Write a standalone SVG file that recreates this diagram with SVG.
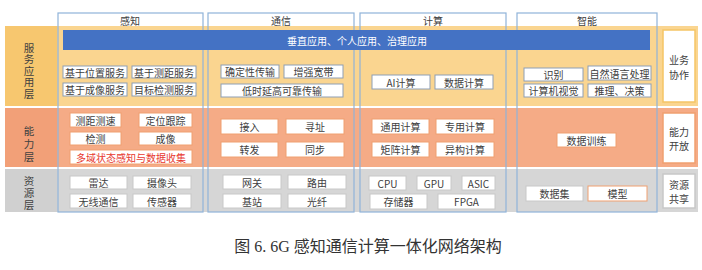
<svg xmlns="http://www.w3.org/2000/svg" width="702" height="270" viewBox="0 0 702 270">
<style>
text{font-family:"Noto Sans CJK SC","Liberation Sans",sans-serif;font-size:10px;fill:#404040;text-anchor:middle;dominant-baseline:central}
.col{fill:none;stroke:#8FB3D9;stroke-width:1.2}
.sv{fill:#fff;stroke:#8E9FB5;stroke-width:1}
.ab{fill:#fff;stroke:#F0A070;stroke-width:1}
.rs{fill:#fff;stroke:#C8C8C8;stroke-width:1}
.lbl{font-size:10px;fill:#404040}
.vl{font-size:10.5px;fill:#404040;writing-mode:vertical-rl;dominant-baseline:auto}
.side{fill:#fff;stroke:#F5C566;stroke-width:1.5}
.sideg{fill:#fff;stroke:#C8C8C8;stroke-width:1.5}
.sidea{fill:#fff;stroke:#F0A070;stroke-width:1.5}
</style>
<rect width="702" height="270" fill="#fff"/>
<!-- bands -->
<g id="band-service">
<rect x="5" y="26" width="693" height="80" fill="#FAD590"/>
<rect x="5" y="26" width="52" height="80" fill="#F7C76F"/>
<text class="vl" x="29" y="71.5" letter-spacing="1">服务应用层</text>
</g>
<g id="band-ability">
<rect x="5" y="108" width="693" height="59" fill="#F5AB86"/>
<rect x="5" y="108" width="52" height="59" fill="#F2A078"/>
<text class="vl" x="29" y="145" letter-spacing="2.5">能力层</text>
</g>
<g id="band-resource">
<rect x="5" y="169" width="693" height="43" fill="#D6D6D6"/>
<rect x="5" y="169" width="52" height="43" fill="#D0D0D0"/>
<text class="vl" x="29" y="194" letter-spacing="1.5">资源层</text>
</g>
<!-- columns -->
<g id="columns">
<rect class="col" x="58" y="13" width="145" height="199"/>
<rect class="col" x="208" y="13" width="146" height="199"/>
<rect class="col" x="360" y="13" width="146" height="199"/>
<rect class="col" x="517" y="13" width="140" height="199"/>
<text x="130" y="20">感知</text>
<text x="281" y="20">通信</text>
<text x="433" y="20">计算</text>
<text x="587" y="20">智能</text>
</g>
<g id="app-bar">
<rect x="63" y="30" width="587" height="20" fill="#4472C4"/>
<text x="357" y="40" style="fill:#fff">垂直应用、个人应用、治理应用</text>
</g>
<!-- service layer boxes -->
<g id="svc-sense">
<rect class="sv" x="63" y="66" width="64" height="12"/><text x="95" y="72">基于位置服务</text>
<rect class="sv" x="132" y="66" width="64" height="12"/><text x="164" y="72">基于测距服务</text>
<rect class="sv" x="63" y="83" width="64" height="13"/><text x="95" y="89.5">基于成像服务</text>
<rect class="sv" x="132" y="83" width="64" height="13"/><text x="164" y="89.5">目标检测服务</text>
</g>
<g id="svc-comm">
<rect class="sv" x="221" y="65" width="58" height="13"/><text x="250" y="71.5">确定性传输</text>
<rect class="sv" x="284" y="65" width="59" height="13"/><text x="313.5" y="71.5">增强宽带</text>
<rect class="sv" x="221" y="84" width="122" height="13"/><text x="282" y="90.5">低时延高可靠传输</text>
</g>
<g id="svc-comp">
<rect class="sv" x="372" y="75" width="58" height="14"/><text x="401" y="82">AI计算</text>
<rect class="sv" x="435" y="75" width="58" height="14"/><text x="464" y="82">数据计算</text>
</g>
<g id="svc-ai">
<rect class="sv" x="524" y="68" width="59" height="13"/><text x="553.5" y="74.5">识别</text>
<rect class="sv" x="588" y="66" width="63" height="14"/><text x="619.5" y="73">自然语言处理</text>
<rect class="sv" x="524" y="84" width="59" height="13"/><text x="553.5" y="90.5">计算机视觉</text>
<rect class="sv" x="588" y="84" width="63" height="13"/><text x="619.5" y="90.5">推理、决策</text>
</g>
<g id="side-business">
<rect class="side" x="663" y="30" width="32" height="72"/>
<text class="lbl" x="679" y="59"><tspan x="679" y="59">业务</tspan><tspan x="679" y="73.5">协作</tspan></text>
</g>
<!-- ability layer boxes -->
<g id="abl-sense">
<rect class="ab" x="70" y="113" width="51" height="14"/><text x="95.5" y="120">测距测速</text>
<rect class="ab" x="139" y="113" width="53" height="14"/><text x="165.5" y="120">定位跟踪</text>
<rect class="ab" x="70" y="132" width="51" height="13"/><text x="95.5" y="138.5">检测</text>
<rect class="ab" x="139" y="132" width="53" height="13"/><text x="165.5" y="138.5">成像</text>
<rect class="ab" x="70" y="150" width="122" height="14"/><text x="131" y="157" style="fill:#E8382F">多域状态感知与数据收集</text>
</g>
<g id="abl-comm">
<rect class="ab" x="221" y="119" width="57" height="15"/><text x="249.5" y="126.5">接入</text>
<rect class="ab" x="286" y="119" width="58" height="15"/><text x="315" y="126.5">寻址</text>
<rect class="ab" x="221" y="142" width="57" height="15"/><text x="249.5" y="149.5">转发</text>
<rect class="ab" x="286" y="142" width="58" height="15"/><text x="315" y="149.5">同步</text>
</g>
<g id="abl-comp">
<rect class="ab" x="372" y="119" width="57" height="15"/><text x="400.5" y="126.5">通用计算</text>
<rect class="ab" x="436" y="119" width="58" height="15"/><text x="465" y="126.5">专用计算</text>
<rect class="ab" x="372" y="142" width="57" height="15"/><text x="400.5" y="149.5">矩阵计算</text>
<rect class="ab" x="436" y="142" width="58" height="15"/><text x="465" y="149.5">异构计算</text>
</g>
<g id="abl-ai">
<rect class="ab" x="557" y="133" width="59" height="14"/><text x="586.5" y="140">数据训练</text>
</g>
<g id="side-ability">
<rect class="sidea" x="663" y="113" width="32" height="50"/>
<text class="lbl" x="679" y="130.5"><tspan x="679" y="130.5">能力</tspan><tspan x="679" y="145">开放</tspan></text>
</g>
<!-- resource layer boxes -->
<g id="res-sense">
<rect class="rs" x="70" y="176" width="57" height="13"/><text x="98.5" y="182.5">雷达</text>
<rect class="rs" x="133" y="176" width="58" height="13"/><text x="162" y="182.5">摄像头</text>
<rect class="rs" x="70" y="194" width="57" height="14"/><text x="98.5" y="201">无线通信</text>
<rect class="rs" x="133" y="194" width="58" height="14"/><text x="162" y="201">传感器</text>
</g>
<g id="res-comm">
<rect class="rs" x="223" y="175" width="58" height="14"/><text x="252" y="182">网关</text>
<rect class="rs" x="288" y="175" width="58" height="14"/><text x="317" y="182">路由</text>
<rect class="rs" x="223" y="194" width="58" height="14"/><text x="252" y="201">基站</text>
<rect class="rs" x="288" y="194" width="58" height="14"/><text x="317" y="201">光纤</text>
</g>
<g id="res-comp">
<rect class="rs" x="369" y="176" width="37" height="14"/><text x="387.5" y="183">CPU</text>
<rect class="rs" x="417" y="176" width="34" height="14"/><text x="434" y="183">GPU</text>
<rect class="rs" x="462" y="176" width="33" height="14"/><text x="478.5" y="183">ASIC</text>
<rect class="rs" x="370" y="194" width="57" height="15"/><text x="398.5" y="201.5">存储器</text>
<rect class="rs" x="438" y="194" width="57" height="15"/><text x="466.5" y="201.5">FPGA</text>
</g>
<g id="res-ai">
<rect class="rs" x="526" y="186" width="57" height="15"/><text x="554.5" y="193.5">数据集</text>
<rect class="ab" x="588" y="186" width="59" height="15"/><text x="617.5" y="193.5">模型</text>
</g>
<g id="side-resource">
<rect class="sideg" x="663" y="174" width="32" height="34"/>
<text class="lbl" x="679" y="183.75"><tspan x="679" y="183.75">资源</tspan><tspan x="679" y="198.25">共享</tspan></text>
</g>
<text x="368" y="246" style="font-family:'Liberation Serif','Noto Sans CJK SC',serif;font-size:16px;fill:#333">图 6. 6G 感知通信计算一体化网络架构</text>
</svg>
